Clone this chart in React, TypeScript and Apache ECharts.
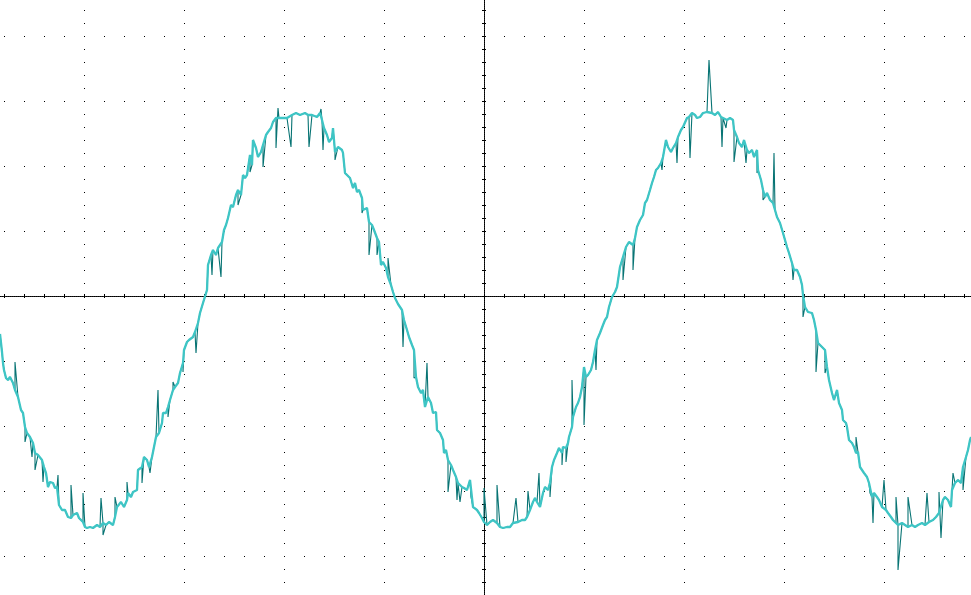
import React, { useEffect, useRef } from "react";
import * as echarts from "echarts";

// Time in µs (100 µs per division), level in mV (65 mV per division)
const traceTime = [
  -484, -482, -481, -480, -478, -476, -474, -471, -469, -466, -463, -461, -459, -457, -454, -451, -449, -446, -442, -440,
  -438, -436, -434, -431, -429, -427, -425, -422, -419, -416, -413, -411, -407, -405, -401, -399, -397, -394, -391, -387,
  -384, -381, -378, -375, -371, -369, -367, -363, -360, -357, -356, -353, -351, -347, -346, -342, -340, -337, -335, -332,
  -330, -328, -325, -322, -321, -318, -316, -314, -311, -309, -306, -304, -301, -300, -297, -295, -291, -289, -286, -284,
  -281, -277, -276, -273, -271, -268, -266, -262, -260, -258, -256, -253, -251, -248, -246, -243, -241, -239, -237, -234,
  -232, -231, -228, -226, -223, -221, -218, -216, -213, -211, -208, -205, -201, -197, -192, -188, -184, -179, -176, -172,
  -167, -164, -162, -160, -157, -155, -152, -151, -149, -146, -142, -141, -139, -137, -134, -131, -129, -127, -125, -122,
  -121, -117, -115, -112, -110, -107, -105, -103, -101, -98, -96, -93, -91, -89, -86, -82, -80, -77, -75, -72,
  -70, -68, -66, -63, -61, -59, -56, -53, -51, -48, -47, -44, -41, -40, -38, -36, -33, -31, -28, -26,
  -22, -20, -17, -14, -11, -7, -5, -2, 0, 3, 6, 9, 13, 16, 19, 23, 26, 29, 34, 38,
  41, 43, 46, 49, 51, 53, 56, 59, 61, 64, 66, 68, 70, 73, 75, 78, 79, 82, 84, 85,
  88, 89, 92, 94, 96, 98, 100, 102, 104, 107, 109, 111, 113, 116, 119, 121, 123, 125, 128, 131,
  133, 136, 139, 142, 145, 149, 151, 153, 156, 159, 161, 163, 166, 168, 170, 172, 174, 177, 179, 182,
  184, 187, 189, 192, 194, 197, 199, 203, 205, 208, 211, 213, 216, 219, 223, 228, 231, 234, 237, 239,
  243, 246, 249, 250, 253, 255, 258, 260, 263, 265, 268, 270, 273, 274, 277, 279, 281, 283, 286, 289,
  291, 293, 296, 299, 301, 303, 305, 308, 310, 313, 316, 318, 319, 321, 324, 328, 330, 332, 334, 338,
  341, 343, 345, 348, 350, 353, 355, 358, 359, 362, 363, 365, 368, 370, 372, 374, 376, 378, 380, 383,
  385, 388, 390, 393, 395, 398, 402, 404, 407, 409, 412, 414, 418, 421, 424, 428, 431, 434, 438, 441,
  445, 449, 452, 455, 459, 461, 464, 467, 468, 471, 474, 477, 479, 482, 484, 486, 487,
];

const traceLevel = [
  -38, -56, -67, -74, -82, -84, -81, -87, -94, -101, -114, -117, -131, -137, -141, -147, -157, -159, -164, -171,
  -177, -191, -186, -187, -192, -191, -209, -214, -214, -221, -222, -219, -217, -222, -226, -231, -232, -231, -232, -229,
  -231, -227, -229, -226, -229, -221, -211, -206, -211, -204, -197, -201, -196, -194, -174, -171, -161, -164, -171, -161,
  -151, -141, -137, -127, -117, -117, -111, -104, -94, -91, -87, -77, -67, -54, -46, -44, -41, -36, -27, -17,
  -7, 6, 31, 41, 46, 41, 48, 54, 66, 71, 78, 91, 89, 101, 106, 101, 121, 118, 121, 141,
  131, 156, 148, 139, 144, 151, 161, 164, 168, 174, 178, 178, 178, 178, 181, 183, 181, 183, 181, 181,
  179, 183, 176, 168, 161, 154, 158, 168, 144, 149, 146, 143, 123, 121, 118, 108, 113, 104, 106, 98,
  86, 88, 74, 71, 66, 58, 54, 31, 34, 28, 19, 11, 4, -2, -8, -14, -24, -34, -41, -49,
  -54, -81, -91, -97, -94, -111, -101, -107, -117, -116, -134, -137, -144, -157, -154, -164, -169, -174, -181, -187,
  -191, -192, -194, -184, -211, -214, -217, -222, -226, -229, -226, -224, -227, -231, -232, -231, -231, -227, -226, -224,
  -224, -221, -214, -206, -202, -206, -211, -197, -191, -194, -187, -171, -164, -157, -152, -157, -151, -152, -147, -141,
  -131, -121, -111, -107, -101, -91, -71, -81, -79, -74, -66, -54, -44, -37, -29, -24, -21, -11, -1, 4,
  9, 29, 39, 49, 54, 51, 58, 69, 76, 81, 93, 96, 106, 113, 119, 126, 128, 133, 139, 156,
  149, 144, 148, 153, 159, 166, 169, 178, 179, 183, 181, 178, 179, 183, 184, 183, 181, 184, 179, 178,
  176, 178, 176, 166, 159, 153, 149, 156, 146, 143, 146, 139, 146, 126, 116, 106, 99, 103, 96, 93,
  86, 79, 73, 63, 56, 49, 43, 33, 26, 26, 19, 11, 1, -11, -16, -17, -24, -34, -47, -51,
  -54, -71, -84, -97, -104, -94, -107, -114, -124, -127, -131, -144, -147, -151, -157, -156, -171, -174, -177, -181,
  -187, -201, -197, -201, -204, -211, -214, -217, -221, -224, -227, -229, -227, -229, -231, -229, -231, -229, -227, -229,
  -226, -224, -221, -217, -204, -201, -204, -211, -194, -187, -184, -187, -171, -161, -154, -144, -141,
];

// Isolated glitches on the trace
const spikeTime = [
  -469, -459, -452, -449, -441, -426, -413, -401, -383, -381, -369, -357, -342, -334, -326, -316, -311, -301, -288, -272,
  -263, -246, -234, -221, -208, -206, -193, -175, -163, -161, -149, -122, -115, -107, -96, -81, -70, -57, -36, -27,
  -24, -13, 0, 13, 32, 44, 55, 66, 78, 82, 88, 100, 112, 139, 149, 178, 193, 206, 225, 238,
  242, 250, 262, 273, 279, 290, 309, 319, 332, 341, 372, 386, 389, 400, 412, 414, 424, 443, 455, 457,
  469, 479,
];

const spikeLevel = [
  -66, -146, -161, -174, -186, -179, -189, -197, -202, -239, -201, -186, -187, -177, -94, -121, -86, -76, -57, 21,
  19, 91, 124, 129, 148, 188, 149, 149, 187, 146, 136, 83, 41, 41, 38, -51, -82, -67, -196, -204,
  -206, -201, -192, -189, -202, -195, -177, -201, -169, -166, -84, -129, -74, 16, 26, 126, 133, 138, 236, 149,
  168, 134, 133, 123, 96, 143, 16, -21, -76, -77, -141, -197, -227, -184, -201, -274, -201, -197, -196, -242,
  -177, -194,
];

const TIME_MIN = -500;
const TIME_MAX = 500;
const TIME_DIV = 100;
const LEVEL_MIN = -325;
const LEVEL_MAX = 325;
const LEVEL_DIV = 65;

export default function App() {
  const ref = useRef<HTMLDivElement>(null);

  useEffect(() => {
    if (!ref.current) return;
    const chart = echarts.init(ref.current, null, { renderer: "svg" });

    const band = traceTime.map((t, i) => [t, traceLevel[i]]);
    const merged = [
      ...band.map((p) => ({ p, k: 0 })),
      ...spikeTime.map((t, i) => ({ p: [t, spikeLevel[i]], k: 1 })),
    ]
      .sort((a, b) => a.p[0] - b.p[0] || a.k - b.k)
      .map((o) => o.p);

    const tickStyle = { color: "#000", width: 1 };
    const makeX = (position: "bottom" | "top", split: boolean) => ({
      type: "value" as const,
      position,
      min: TIME_MIN,
      max: TIME_MAX,
      interval: TIME_DIV,
      axisLine: {
        show: true,
        onZero: true,
        onZeroAxisIndex: 0,
        lineStyle: { color: "#000", width: 1, type: [1, 1] },
      },
      axisTick: { show: true, length: 2, lineStyle: tickStyle },
      minorTick: { show: true, splitNumber: 5, length: 2, lineStyle: tickStyle },
      axisLabel: { show: false },
      splitLine: {
        show: split,
        lineStyle: { color: "#000", width: 1, type: [1, 12], dashOffset: 0 },
      },
      minorSplitLine: { show: false },
    });
    const makeY = (position: "left" | "right", split: boolean) => ({
      type: "value" as const,
      position,
      min: LEVEL_MIN,
      max: LEVEL_MAX,
      interval: LEVEL_DIV,
      axisLine: {
        show: true,
        onZero: true,
        onZeroAxisIndex: 0,
        lineStyle: { color: "#000", width: 1, type: [1, 1] },
      },
      axisTick: { show: true, length: 2, lineStyle: tickStyle },
      minorTick: { show: true, splitNumber: 5, length: 2, lineStyle: tickStyle },
      axisLabel: { show: false },
      splitLine: {
        show: split,
        lineStyle: { color: "#000", width: 1, type: [1, 19], dashOffset: 0 },
      },
      minorSplitLine: { show: false },
    });

    chart.setOption({
      animation: false,
      backgroundColor: "#ffffff",
      grid: {
        left: -16,
        right: -13,
        top: -29,
        bottom: -26,
        containLabel: false,
        outerBoundsMode: "none",
      },
      xAxis: [makeX("bottom", true), makeX("top", false)],
      yAxis: [makeY("left", true), makeY("right", false)],
      series: [
        {
          type: "line",
          xAxisIndex: 0,
          yAxisIndex: 0,
          data: merged,
          symbol: "none",
          silent: true,
          z: 3,
          lineStyle: { color: "#087474", width: 1.1 },
        },
        {
          type: "line",
          xAxisIndex: 0,
          yAxisIndex: 0,
          data: band,
          symbol: "none",
          silent: true,
          z: 4,
          lineStyle: { color: "#3ec5c5", width: 2.3 },
        },
      ],
    });

    return () => chart.dispose();
  }, []);

  return (
    <div
      ref={ref}
      style={{ position: "absolute", left: 0, top: 0, width: 971, height: 595, background: "#fff" }}
    />
  );
}
